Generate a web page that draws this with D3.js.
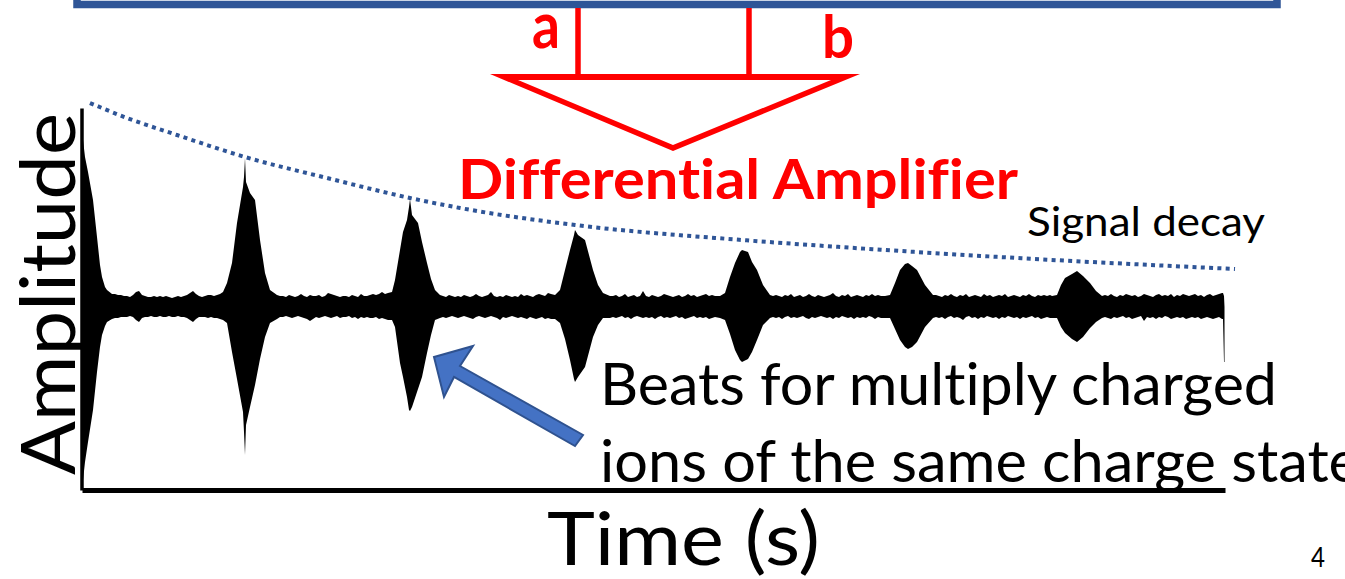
<!DOCTYPE html>
<html lang="en">
<head>
<meta charset="utf-8">
<title>Signal decay</title>
<script src="https://cdn.jsdelivr.net/npm/d3@7"></script>
<style>
	html, body { margin: 0; padding: 0; background: #fff; overflow: hidden; }
	svg text { font-family: Lato, "Open Sans", sans-serif; font-variant-ligatures: none; }
</style>
</head>
<body>
<script>
// envelope of the transient
var times = [
	0,1,3,6,11,15,18,20,23,25,30,
	33,36,39,42,45,48,51,54,57,60,63,66,69,72,75,78,81,84,87,90,93,96,99,102,105,108,111,114,117,120,123,126,129,132,135,138,
	141,145,150,155,161,162,163,164,168,173,178,183,188,195,
	198,201,204,207,210,213,216,219,222,225,228,231,234,237,240,243,246,249,252,255,258,261,264,267,270,273,276,279,282,285,288,291,294,297,300,303,306,
	310,313,318,321,325,327,328,330,336,340,345,349,353,358,
	361,364,367,370,373,376,379,382,385,388,391,394,397,400,403,406,409,412,415,418,421,424,427,430,433,436,439,442,445,448,451,454,457,460,463,466,469,
	473,478,483,488,492,493,496,503,511,516,521,528,
	531,534,537,540,543,546,549,552,555,558,561,564,567,570,573,576,579,582,585,588,591,594,597,600,603,606,609,612,615,618,621,624,627,630,633,
	638,643,648,653,658,660,666,670,675,681,688,
	691,694,697,700,703,706,709,712,715,718,721,724,727,730,733,736,739,742,745,748,751,754,757,760,763,766,769,772,775,778,781,784,787,790,793,796,799,
	803,808,813,818,823,826,830,835,843,851,
	854,857,860,863,866,869,872,875,878,881,884,887,890,893,896,899,902,905,908,911,914,917,920,923,926,929,932,935,938,941,944,947,950,953,956,959,962,965,968,
	970,975,979,983,990,995,1001,1008,1014,1020,
	1023,1026,1029,1032,1035,1038,1041,1044,1047,1050,1053,1056,1059,1062,1065,1068,1071,1074,1077,1080,1083,1086,1089,1092,1095,1098,1101,1104,1107,1110,1113,1116,1119,1122,1125,1128,1131,1134,1137,1140,
	1141,1142,1142.5
];
var upper = [
	199,167,150,135,107,70,42,30,20,17,13,
	13,12,12,11,11,10,12,15,16,12,11,10,10,11,10,11,10,11,10,9,10,11,10,11,12,14,16,13,11,10,11,12,12,11,12,13,
	15,24,44,84,120,130,149,125,114,107,67,34,17,12,
	11,11,10,12,11,10,11,13,11,10,12,11,11,12,10,11,14,13,12,11,10,11,11,10,12,11,10,13,11,11,12,13,12,13,15,13,14,
	15,27,57,75,87,100,108,92,84,65,44,28,17,12,
	11,10,12,11,10,11,10,12,11,10,11,13,11,10,11,12,15,11,10,11,10,12,11,10,11,10,13,11,12,11,10,12,13,12,11,14,13,
	12,17,37,57,72,77,72,67,37,22,14,11,
	11,12,10,11,13,10,11,12,10,11,16,11,10,12,11,10,11,13,12,11,10,11,12,10,11,13,11,12,10,11,12,13,11,12,11,
	11,14,30,44,55,57,55,45,37,22,12,
	11,12,11,10,12,11,13,10,11,12,10,11,13,11,10,12,11,10,11,12,14,11,10,12,11,13,10,11,12,11,10,12,11,13,11,12,11,
	11,12,24,37,43,44,41,37,22,12,
	12,11,10,12,11,13,11,10,12,11,13,10,11,12,11,10,13,11,12,10,11,12,11,13,10,11,12,11,10,12,11,13,11,10,12,11,12,11,12,
	11,12,22,29,33,36,31,24,16,11,
	12,11,13,11,10,12,11,13,12,11,12,10,11,13,12,11,10,12,13,11,12,11,13,10,12,11,13,12,11,12,13,11,12,10,12,13,11,12,13,14,
	14,11,0
];
var lower = [
	-180,-173,-155,-135,-103,-65,-40,-28,-19,-15,-12,
	-11,-11,-10,-10,-10,-9,-10,-13,-15,-11,-10,-10,-9,-10,-10,-9,-10,-10,-9,-10,-10,-9,-10,-10,-11,-13,-15,-12,-10,-10,-10,-11,-10,-11,-11,-12,
	-13,-16,-45,-72,-105,-125,-148,-118,-100,-78,-52,-30,-16,-12,
	-10,-10,-9,-10,-11,-10,-9,-10,-11,-12,-14,-12,-10,-11,-10,-9,-10,-11,-10,-9,-11,-10,-10,-9,-11,-10,-12,-10,-11,-10,-11,-11,-10,-12,-11,-12,-13,
	-13,-20,-56,-70,-90,-103,-104,-100,-82,-70,-46,-28,-13,-11,
	-10,-11,-10,-9,-10,-11,-10,-9,-10,-11,-12,-10,-9,-10,-11,-10,-9,-10,-11,-13,-10,-11,-10,-9,-10,-11,-10,-11,-12,-10,-11,-12,-11,-10,-12,-11,-12,
	-12,-16,-32,-53,-72,-75,-70,-60,-30,-18,-11,-11,
	-10,-11,-10,-9,-11,-10,-12,-10,-9,-10,-11,-10,-11,-10,-12,-10,-9,-11,-10,-11,-10,-9,-11,-10,-12,-11,-10,-9,-11,-10,-11,-10,-12,-11,-10,
	-11,-13,-27,-43,-53,-55,-52,-45,-33,-18,-11,
	-10,-11,-10,-12,-10,-9,-11,-10,-11,-10,-9,-11,-12,-10,-11,-10,-9,-10,-11,-10,-12,-10,-11,-9,-10,-11,-10,-12,-10,-11,-10,-11,-9,-10,-12,-10,-11,
	-11,-11,-22,-33,-40,-42,-40,-35,-20,-11,
	-10,-11,-10,-12,-10,-9,-11,-10,-11,-13,-10,-9,-11,-10,-12,-10,-11,-9,-10,-11,-10,-12,-10,-11,-9,-10,-11,-10,-12,-10,-11,-10,-9,-11,-10,-12,-11,-10,-11,
	-11,-11,-20,-26,-32,-35,-30,-21,-15,-11,
	-10,-11,-12,-10,-11,-10,-9,-11,-10,-12,-11,-10,-9,-14,-10,-11,-10,-12,-10,-11,-9,-10,-12,-11,-10,-11,-10,-12,-11,-10,-11,-10,-12,-11,-10,-11,-12,-11,-10,-12,
	-12,-55,-55
];

// dotted decay line above the beats
var decayTimes = [8,45,95,163,245,328,378,493,660,758,935,1153];
var decayAmps = [204,189,172,150,129,109,99,82,67,60,49,38];

var beatLabels = ["Beats for multiply charged", "ions of the same charge state"];

var w = 1345, h = 579;
var svg = d3.select("body").append("svg").attr("width", w).attr("height", h).style("display", "block");

var x = d3.scaleLinear().domain([0, 1143]).range([82, 1225]);
var y = d3.scaleLinear().domain([-183, 199]).range([490, 108]);

// top box of the detector, cut by the page
svg.append("path")
	.attr("d", "M77,-6V4.5H1277V-6")
	.attr("fill", "none").attr("stroke", "#2f5597").attr("stroke-width", 7.5);

// amplifier
var red = "#ff0000";
svg.append("line").attr("x1", 578).attr("x2", 578).attr("y1", 8).attr("y2", 76).attr("stroke", red).attr("stroke-width", 5.5);
svg.append("line").attr("x1", 749).attr("x2", 749).attr("y1", 8).attr("y2", 76).attr("stroke", red).attr("stroke-width", 5.5);
svg.append("path")
	.attr("d", "M490,74H860L673,151ZM518,80L673,145L831,80Z")
	.attr("fill", red).attr("fill-rule", "evenodd");

// decay line
svg.append("path")
	.datum(decayTimes)
	.attr("d", d3.line().x(function (d) { return x(d); })
		.y(function (d, i) { return y(decayAmps[i]); })
		.curve(d3.curveMonotoneX))
	.attr("fill", "none").attr("stroke", "#2f5597")
	.attr("stroke-width", 4).attr("stroke-dasharray", "4 4.3");

// transient
svg.append("path")
	.datum(times)
	.attr("d", d3.area().x(function (d) { return x(d); })
		.y0(function (d, i) { return y(lower[i]); })
		.y1(function (d, i) { return y(upper[i]); }))
	.attr("fill", "#000");

// axes, no ticks in the original
function plainAxis(width) {
	return function (g) {
		g.selectAll("path").attr("stroke", "#000").attr("stroke-width", width);
	};
}
svg.append("g").attr("transform", "translate(81.5,0)")
	.call(d3.axisLeft(y).tickValues([]).tickSizeOuter(0)).call(plainAxis(3.5));
svg.append("g").attr("transform", "translate(0,490)")
	.call(d3.axisBottom(x).tickValues([]).tickSizeOuter(0)).call(plainAxis(5));

// arrow
svg.append("path")
	.attr("d", "M434,357L473,346L460,366L583,435L575,446L454,377L444,397Z")
	.attr("fill", "#4472c4").attr("stroke", "#2f528f").attr("stroke-width", 2);

function label(str, px, py, size, len, color, weight) {
	return svg.append("text").text(str)
		.attr("x", px).attr("y", py)
		.attr("font-size", size)
		.attr("textLength", len).attr("lengthAdjust", "spacingAndGlyphs")
		.attr("fill", color || "#000")
		.attr("font-weight", weight || "normal");
}

label("a", 532, 48, 64, 28, red, "bold");
label("b", 822, 58, 60, 32, red, "bold");
label("Differential Amplifier", 458, 199, 56, 560, red, "bold");
label("Signal decay", 1027, 236, 40, 238);
label(beatLabels[0], 600, 405, 58, 677);
label(beatLabels[1], 600, 482, 58, 760);
label("Time (s)", 547, 565, 74, 273);
label("4", 1311, 567, 26, 14);
label("Amplitude", 0, 0, 76, 362)
	.attr("transform", "translate(75,475) rotate(-90)");
</script>
</body>
</html>
